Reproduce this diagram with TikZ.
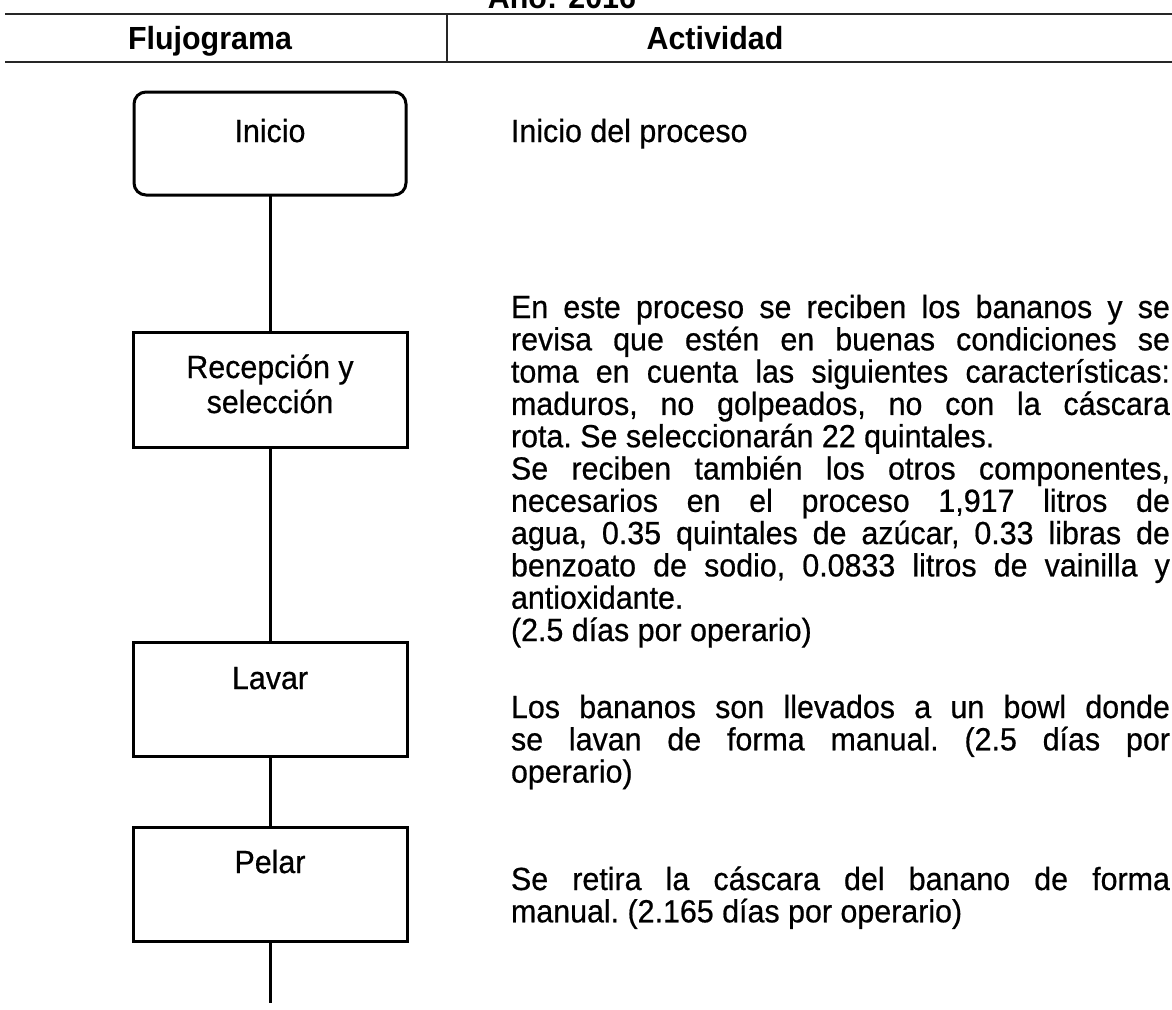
\documentclass[tikz,border=0pt]{standalone}
\usepackage{fontspec}
\setmainfont[FakeStretch=0.95,UprightFeatures={FakeBold=0.6}]{Liberation Sans}
\newcommand\boxtxt[4]{\parbox[t][#2pt][t]{#1pt}{\centering\rule{0pt}{#3pt}#4}}
\newcommand\colpar[1]{\parbox[t]{659pt}{\frenchspacing\tolerance=10000\hyphenpenalty=10000\relax #1}}
\begin{document}
\begin{tikzpicture}[x=1pt,y=-1pt,
  every node/.style={inner sep=0pt, outer sep=0pt},
  conn/.style={line width=3pt, black},
  hline/.style={line width=1.8pt, black!85},
  body/.style={font=\fontsize{32}{32.3}\selectfont},
  boxfont/.style={font=\fontsize{32}{35}\selectfont},
  head/.style={font=\bfseries\fontsize{32}{32.3}\selectfont},
  flowbox/.style={draw, line width=3pt, anchor=north, boxfont},
  startbox/.style={flowbox, rounded corners=12pt},
  para/.style={anchor=base west, body}]
\useasboundingbox (0,0) rectangle (1172,1009);
% header
\node[head, anchor=base] (anio) at (562,9) {Año: 2016};
\draw[hline] (5,14) -- (1172,14);
\draw[hline] (5,62) -- (1172,62);
\draw[hline] (447,14) -- (447,62);
\node[head, anchor=base] (hflujo) at (210,49) {Flujograma};
\node[head, anchor=base] (hact) at (715,49) {Actividad};
% flow
\node[startbox] (inicio) at (270,92) {\boxtxt{272}{103}{50}{Inicio}};
\node[flowbox] (recep) at (270,332) {\boxtxt{274}{115}{46}{Recepción y\\selección}};
\node[flowbox] (lavar) at (270,642) {\boxtxt{274}{114}{47}{Lavar}};
\node[flowbox] (pelar) at (270,827) {\boxtxt{274}{114}{46}{Pelar}};
\coordinate (fin) at (270,1003);
\draw[conn] (inicio.south) -- (recep.north);
\draw[conn] (recep.south) -- (lavar.north);
\draw[conn] (lavar.south) -- (pelar.north);
\draw[conn] (pelar.south) -- (fin);
% activities
\node[para] (a0) at (511,142) {Inicio del proceso};
\node[para] (a1) at (511,318) {\colpar{En este proceso se reciben los bananos y se\linebreak
revisa que estén en buenas condiciones se\linebreak
toma en cuenta las siguientes características:\linebreak
maduros, no golpeados, no con la cáscara\linebreak
rota. Se seleccionarán 22 quintales.\par
Se reciben también los otros componentes,\linebreak
necesarios en el proceso 1,917 litros de\linebreak
agua, 0.35 quintales de azúcar, 0.33 libras de\linebreak
benzoato de sodio, 0.0833 litros de vainilla y\linebreak
antioxidante.\par
(2.5 días por operario)}};
\node[para] (a2) at (511,718) {\colpar{Los bananos son llevados a un bowl donde\linebreak
se lavan de forma manual. (2.5 días por\linebreak
operario)}};
\node[para] (a3) at (511,890) {\colpar{Se retira la cáscara del banano de forma\linebreak
manual. (2.165 días por operario)}};
\end{tikzpicture}
\end{document}
